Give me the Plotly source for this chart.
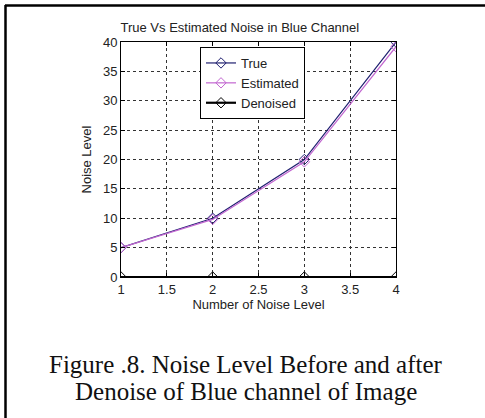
import plotly.graph_objects as go

noise_levels = [1, 2, 3, 4]
true_noise = [5, 10, 20, 40]
estimated_noise = [5, 9.8, 19.6, 39.2]
denoised_noise = [0, 0, 0, 0]

x_ticks = [1, 1.5, 2, 2.5, 3, 3.5, 4]
x_tick_text = ["1", "1.5", "2", "2.5", "3", "3.5", "4"]
y_ticks = [0, 5, 10, 15, 20, 25, 30, 35, 40]

caption_lines = ["Figure .8. Noise Level Before and after", "Denoise of Blue channel of Image"]

W, H = 485, 418
L, R, T, B = 121, 396, 42, 277
pw, ph = R - L, B - T

def px(xp):
    return (xp - L) / pw

def py(yp):
    return (B - yp) / ph

SANS = "Liberation Sans"
TXT = "#222222"

fig = go.Figure()
fig.add_trace(go.Scatter(x=noise_levels, y=true_noise, name="True", mode="lines+markers",
                         line=dict(color="#1f1f70", width=1.2),
                         marker=dict(symbol="diamond-open", size=8, color="#1f1f70", line=dict(width=1))))
fig.add_trace(go.Scatter(x=noise_levels, y=estimated_noise, name="Estimated", mode="lines+markers",
                         line=dict(color="#c266d0", width=1.2),
                         marker=dict(symbol="diamond-open", size=8, color="#c266d0", line=dict(width=1))))
fig.add_trace(go.Scatter(x=noise_levels, y=denoised_noise, name="Denoised", mode="lines+markers",
                         line=dict(color="#000000", width=2.2),
                         marker=dict(symbol="diamond-open", size=8, color="#000000", line=dict(width=1))))

axis_common = dict(showline=True, linecolor="black", linewidth=1, mirror="ticks",
                   ticks="inside", ticklen=4, tickcolor="black",
                   showgrid=True, gridcolor="#333333", gridwidth=1, griddash="3px,3px",
                   zeroline=False, tickfont=dict(family=SANS, size=13, color=TXT))

fig.update_xaxes(range=[1, 4], tickvals=x_ticks, ticktext=x_tick_text,
                 title=dict(text="Number of Noise Level", font=dict(family=SANS, size=13, color=TXT), standoff=0),
                 **axis_common)
fig.update_yaxes(range=[0, 40], tickvals=y_ticks,
                 title=dict(text="Noise Level", font=dict(family=SANS, size=13, color=TXT), standoff=8),
                 **axis_common)

fig.update_layout(
    width=W, height=H,
    margin=dict(l=L, r=W - R, t=T, b=H - B),
    paper_bgcolor="white", plot_bgcolor="white",
    title=dict(text="True Vs Estimated Noise in Blue Channel", x=px(257), xanchor="center",
               y=1 - 27 / H, yanchor="middle",
               font=dict(family=SANS, size=13, color=TXT)),
    legend=dict(x=px(200), y=py(47), xanchor="left", yanchor="top",
                bgcolor="white", bordercolor="black", borderwidth=1,
                font=dict(family=SANS, size=13, color=TXT),
                tracegroupgap=0, itemwidth=30),
    showlegend=True,
)

for line_text, yc in zip(caption_lines, [364, 391]):
    fig.add_annotation(text=line_text, xref="paper", yref="paper", x=px(246), y=py(yc),
                       xanchor="center", yanchor="middle", showarrow=False,
                       font=dict(family="Liberation Serif", size=25, color="#111"))

fig.add_shape(type="line", xref="paper", yref="paper", x0=px(5), x1=px(486), y0=py(5.5), y1=py(5.5),
              line=dict(color="black", width=2.5))
fig.add_shape(type="line", xref="paper", yref="paper", x0=px(5.5), x1=px(5.5), y0=py(5), y1=py(419),
              line=dict(color="black", width=2.5))

fig.write_html("out.html", config={"displayModeBar": False},
               post_script="document.body.style.margin='0';document.body.style.overflow='hidden';")
